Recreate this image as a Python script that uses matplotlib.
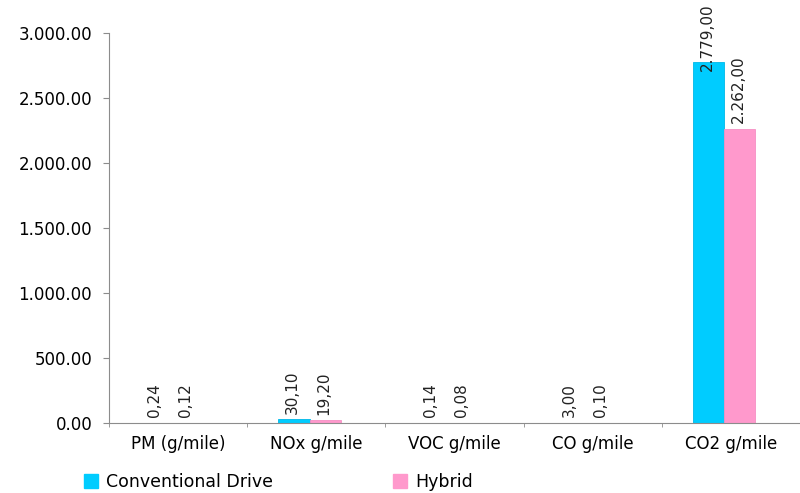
import matplotlib.pyplot as plt
import numpy as np
from matplotlib.patches import Patch

categories = ["PM (g/mile)", "NOx g/mile", "VOC g/mile", "CO g/mile", "CO2 g/mile"]
conventional = [0.24, 30.10, 0.14, 3.00, 2779.00]
hybrid = [0.12, 19.20, 0.08, 0.10, 2262.00]
conventional_labels = ["0,24", "30,10", "0,14", "3,00", "2.779,00"]
hybrid_labels = ["0,12", "19,20", "0,08", "0,10", "2.262,00"]
y_ticks = [0, 500, 1000, 1500, 2000, 2500, 3000]
y_tick_labels = ["0.00", "500.00", "1.000.00", "1.500.00", "2.000.00", "2.500.00", "3.000.00"]

plt.rcParams["font.family"] = ["DejaVu Sans"]

cyan = "#00CCFF"
pink = "#FF99CC"
axis_grey = "#8C8C8C"
ymax = 3000

fig = plt.figure(figsize=(8, 4.93), dpi=100)
ax = fig.add_axes([0.136, 0.142, 0.864, 0.791])

x = np.arange(len(categories))
width = 0.225
bars1 = ax.bar(x - 0.16, conventional, width, color=cyan, edgecolor="#00B8E8", linewidth=0.6)
bars2 = ax.bar(x + 0.065, hybrid, width, color=pink, edgecolor="#F590C4", linewidth=0.6)

# rotated value labels above each bar (the tallest one dips into its bar so it fits)
for bars, labels in [(bars1, conventional_labels), (bars2, hybrid_labels)]:
    for b, lab in zip(bars, labels):
        h = b.get_height()
        dy = -7 if h > 0.9 * ymax else 4
        ax.annotate(lab, (b.get_x() + b.get_width() / 2, h),
                    xytext=(-1, dy), textcoords="offset points",
                    rotation=90, ha="center", va="bottom", fontsize=11, color="#222222")

ax.set_xlim(-0.5, len(categories) - 0.5)
ax.set_ylim(0, ymax)
ax.set_yticks(y_ticks)
ax.set_yticklabels(y_tick_labels, fontsize=12)
ax.set_xticks(x)
ax.set_xticklabels(categories, fontsize=12)
ax.tick_params(axis="x", length=0, pad=9)
ax.set_xticks(np.arange(len(categories)) - 0.5, minor=True)
ax.tick_params(axis="x", which="minor", length=3, color=axis_grey)
ax.tick_params(axis="y", length=4, color=axis_grey, pad=8)

for s in ["top", "right"]:
    ax.spines[s].set_visible(False)
ax.spines["left"].set_color(axis_grey)
ax.spines["bottom"].set_color(axis_grey)

handles = [Patch(facecolor=cyan, edgecolor=cyan), Patch(facecolor=pink, edgecolor=pink)]
fig.legend(handles, ["Conventional Drive", "Hybrid"], loc="center left",
           bbox_to_anchor=(0.085, 0.022), ncol=2, frameon=False, fontsize=12.5,
           handlelength=0.8, handleheight=0.8, handletextpad=0.5, columnspacing=6.9)

fig.savefig("out.png", dpi=100)
